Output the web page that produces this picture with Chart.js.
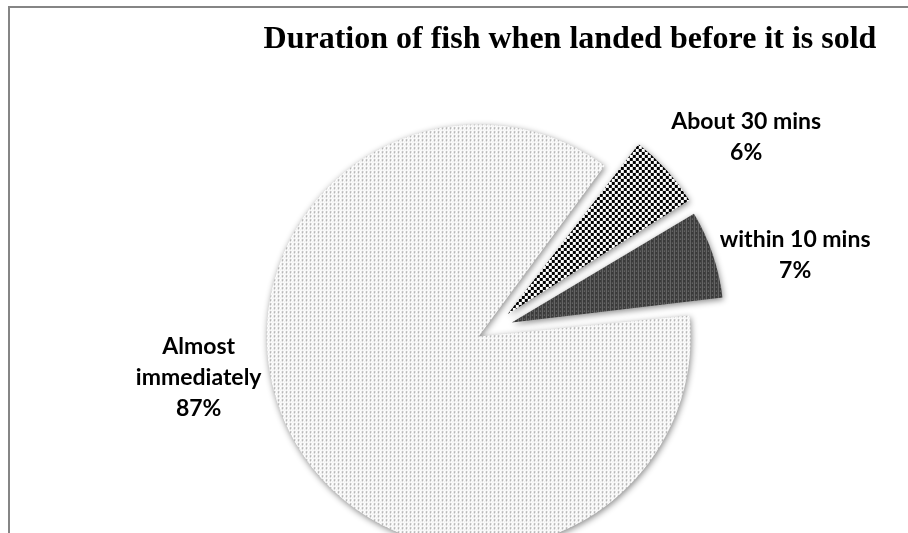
<!DOCTYPE html>
<html><head><meta charset="utf-8">
<script src="https://cdn.jsdelivr.net/npm/chart.js@4/dist/chart.umd.min.js"></script>
<style>
html,body{margin:0;padding:0;width:908px;height:533px;overflow:hidden;background:#fff}
#wrap{position:absolute;left:0;top:0;width:908px;height:600px}
</style>
</head><body><div id="wrap"><canvas id="c" width="908" height="600"></canvas></div>
<script>
// ---- data ----
const titleText = "Duration of fish when landed before it is sold";
const categories = ["About 30 mins", "within 10 mins", "Almost immediately"];
const values = [6, 7, 87];
const labelBreaks = [false, false, true]; // split category onto lines

// ---- patterns ----
function makePattern(w, h, draw) {
  const c = document.createElement('canvas');
  c.width = w; c.height = h;
  const g = c.getContext('2d');
  draw(g);
  return document.getElementById('c').getContext('2d').createPattern(c, 'repeat');
}
const dotPattern = makePattern(4, 4, g => {
  g.fillStyle = '#ffffff'; g.fillRect(0, 0, 4, 4);
  g.fillStyle = '#8a8a8a'; g.fillRect(1, 1, 1, 1);
  g.fillStyle = '#c0c0c0'; g.fillRect(1, 2, 1, 1); g.fillRect(2, 1, 1, 1);
  g.fillStyle = '#dedede'; g.fillRect(3, 3, 1, 1); g.fillRect(1, 3, 1, 1);
});
const checkPattern = makePattern(6, 6, g => {
  g.fillStyle = '#ffffff'; g.fillRect(0, 0, 6, 6);
  g.fillStyle = '#000000'; g.fillRect(0, 0, 3, 3); g.fillRect(3, 3, 3, 3);
});
const darkPattern = makePattern(4, 4, g => {
  g.fillStyle = '#3a3a3a'; g.fillRect(0, 0, 4, 4);
  g.fillStyle = '#6e6e6e'; g.fillRect(0, 0, 1, 4);
  g.fillStyle = '#8a8a8a'; g.fillRect(2, 2, 1, 1);
});

// ---- plugins ----
const framePlugin = {
  id: 'frame',
  beforeDraw(chart) {
    const ctx = chart.ctx;
    ctx.save();
    ctx.fillStyle = '#ffffff';
    ctx.fillRect(0, 0, chart.width, chart.height);
    ctx.strokeStyle = '#858585';
    ctx.lineWidth = 2;
    ctx.beginPath();
    ctx.moveTo(9, chart.height);
    ctx.lineTo(9, 7);
    ctx.lineTo(chart.width, 7);
    ctx.stroke();
    ctx.restore();
  }
};
const shadowPlugin = {
  id: 'softShadow',
  beforeDatasetsDraw(chart) {
    const ctx = chart.ctx;
    ctx.save();
    ctx.shadowColor = 'rgba(0,0,0,0.45)';
    ctx.shadowBlur = 6;
    ctx.shadowOffsetX = 1;
    ctx.shadowOffsetY = 2;
  },
  afterDatasetsDraw(chart) { chart.ctx.restore(); }
};
const titlePlugin = {
  id: 'sideTitle',
  afterDraw(chart, args, opts) {
    const ctx = chart.ctx;
    ctx.save();
    ctx.font = opts.font;
    ctx.fillStyle = '#000';
    ctx.textAlign = 'center';
    ctx.textBaseline = 'middle';
    ctx.fillText(opts.text, opts.x, opts.y);
    ctx.restore();
  }
};
const labelPlugin = {
  id: 'sliceLabels',
  afterDraw(chart, args, opts) {
    const ctx = chart.ctx;
    const meta = chart.getDatasetMeta(0);
    const total = values.reduce((a, b) => a + b, 0);
    ctx.save();
    ctx.font = opts.font;
    ctx.fillStyle = '#000';
    ctx.textAlign = 'center';
    ctx.textBaseline = 'middle';
    meta.data.forEach((el, i) => {
      const p = el.getProps(['x', 'y', 'startAngle', 'endAngle', 'outerRadius'], true);
      const off = (el.options.offset || 0) / 4; // Chart.js v4 draws offset / 4
      const mid = (p.startAngle + p.endAngle) / 2;
      const ax = p.x + Math.cos(mid) * (p.outerRadius + off) + opts.shift[i][0];
      const ay = p.y + Math.sin(mid) * (p.outerRadius + off) + opts.shift[i][1];
      const pct = Math.round(values[i] / total * 100) + '%';
      const lines = (labelBreaks[i] ? categories[i].split(' ') : [categories[i]]).concat(pct);
      const h = opts.lineHeight;
      lines.forEach((t, k) => {
        ctx.fillText(t, ax, ay + (k - (lines.length - 1) / 2) * h);
      });
    });
    ctx.restore();
  }
};

new Chart(document.getElementById('c'), {
  type: 'pie',
  data: {
    labels: categories,
    datasets: [{
      data: values,
      backgroundColor: [checkPattern, darkPattern, dotPattern],
      borderWidth: 0,
      offset: [96, 92, 52],
      hoverOffset: 0
    }]
  },
  options: {
    responsive: false,
    animation: false,
    rotation: 37,
    layout: { padding: { left: 243, right: 171, top: 83, bottom: 23 } },
    events: [],
    plugins: {
      legend: { display: false },
      tooltip: { enabled: false },
      title: { display: false },
      sideTitle: { text: titleText, font: 'bold 32px "Liberation Serif"', x: 570, y: 40 },
      sliceLabels: {
        font: 'bold 23px Lato',
        lineHeight: 31,
        shift: [[91, -43], [95, -3], [-107, -57]]
      }
    }
  },
  plugins: [framePlugin, shadowPlugin, labelPlugin, titlePlugin]
});
</script>
</body></html>
